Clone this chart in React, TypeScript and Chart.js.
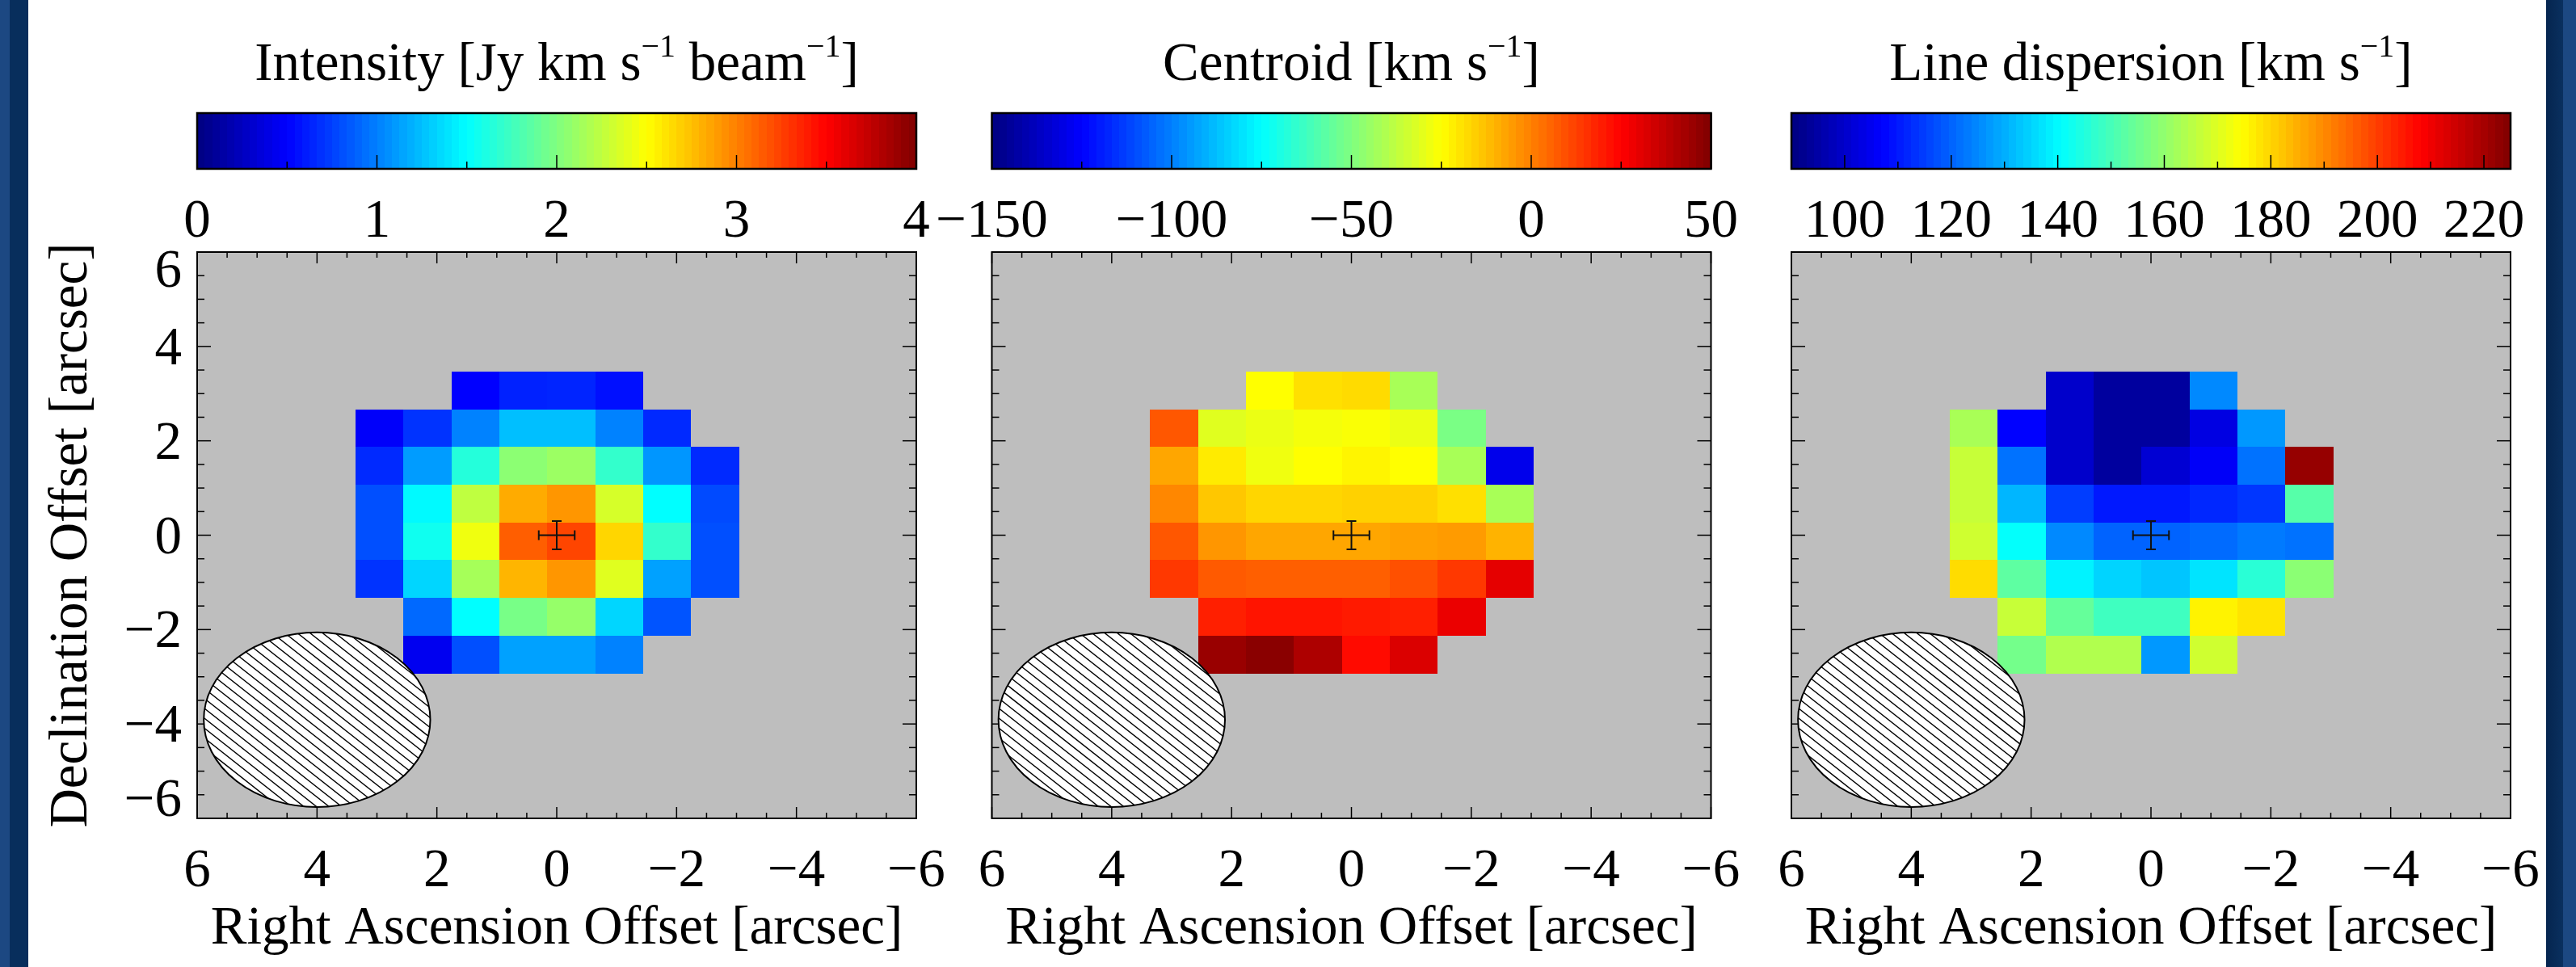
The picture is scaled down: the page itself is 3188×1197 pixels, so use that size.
import React, { useEffect, useRef } from "react";
import { Chart, registerables } from "chart.js";

Chart.register(...registerables);

// ---------------- data ----------------
// Centres (arcsec) of the 0.8" map pixels
const RA_CENTRES = [2.958, 2.158, 1.358, 0.558, -0.242, -1.042, -1.842, -2.642];
const DEC_CENTRES = [3.07, 2.27, 1.47, 0.67, -0.13, -0.93, -1.73, -2.53];
const PIXEL_SIZE = 0.8;

// Intensity [Jy km/s/beam], rows from top (north) to bottom
const INTENSITY: (number | null)[][] = [
  [null, null, 0.5, 0.63, 0.64, 0.56, null, null],
  [0.48, 0.7, 1.01, 1.25, 1.25, 1.01, 0.66, null],
  [0.66, 1.11, 1.64, 2.05, 2.11, 1.7, 1.09, 0.66],
  [0.81, 1.48, 2.25, 2.83, 2.91, 2.34, 1.5, 0.79],
  [0.81, 1.56, 2.44, 3.13, 3.23, 2.66, 1.7, 0.81],
  [0.7, 1.34, 2.15, 2.79, 2.91, 2.38, 1.13, 0.81],
  [null, 0.91, 1.5, 1.97, 2.09, 1.34, 0.83, null],
  [null, 0.44, 0.81, 1.13, 1.13, 1.01, null, null],
];

// Centroid velocity [km/s]
const CENTROID: (number | null)[][] = [
  [null, null, -25, -19, -18, -42, null, null],
  [8, -31, -29, -27, -26, -29, -51, null],
  [-7.5, -21, -28, -25, -23, -25, -42, -129],
  [-1.4, -14, -17, -17, -16, -16, -19, -42],
  [8, -4.4, -7.5, -7.5, -7.5, -6.4, -5.4, -10],
  [14, 7.4, 6.4, 6.4, 6.4, 9.3, 14, 30],
  [null, 19, 21, 21, 20, 19, 29, null],
  [null, 45, 48, 41, 23, 32, null, null],
];

// Line dispersion [km/s]
const DISPERSION: (number | null)[][] = [
  [null, null, 100, 94, 94, 125, null, null],
  [163, 107, 100, 94, 94, 103, 127, null],
  [167, 122, 100, 94, 101, 106, 122, 222],
  [167, 131, 115, 110, 110, 112, 114, 152],
  [168, 141, 125, 120, 120, 121, 123, 122],
  [179, 153, 139, 135, 133, 137, 146, 159],
  [null, 167, 154, 149, 149, 176, 178, null],
  [null, 156, 164, 164, 127, 168, null, null],
];

// Axis ticks (arcsec)
const AXIS_MAJOR = [6, 4, 2, 0, -2, -4, -6];
const AXIS_LABELS = ["6", "4", "2", "0", "\u22122", "\u22124", "\u22126"];
const AXIS_MINOR = [5.5, 5, 4.5, 3.5, 3, 2.5, 1.5, 1, 0.5, -0.5, -1, -1.5, -2.5, -3, -3.5, -4.5, -5, -5.5];

// Colour bars
const CB1_RANGE = [0, 4];
const CB1_MAJOR = [0, 1, 2, 3, 4];
const CB1_LABELS = ["0", "1", "2", "3", "4"];
const CB1_MINOR = [0.5, 1.5, 2.5, 3.5];

const CB2_RANGE = [-150, 50];
const CB2_MAJOR = [-150, -100, -50, 0, 50];
const CB2_LABELS = ["\u2212150", "\u2212100", "\u221250", "0", "50"];
const CB2_MINOR = [-125, -75, -25, 25];

const CB3_RANGE = [90, 225];
const CB3_MAJOR = [100, 120, 140, 160, 180, 200, 220];
const CB3_LABELS = ["100", "120", "140", "160", "180", "200", "220"];
const CB3_MINOR = [110, 130, 150, 170, 190, 210];

// Beam (arcsec) and position marker
const BEAM = { x: 4, y: -3.91, rx: 1.89, ry: 1.85 };
const HATCH_STEP = 0.21;
const MARKER = { x: 0, y: 0, err: 0.3 };

const X_TITLE = "Right Ascension Offset [arcsec]";
const Y_TITLE = "Declination Offset [arcsec]";

// ---------------- layout ----------------
const W = 3188;
const H = 1197;
const PLOT_TOP = 312;
const PLOT_BOTTOM = 1013;
const PLOT_W = 890;
const CB_TOP = 140;
const CB_BOTTOM = 209;
const FONT = '"Liberation Serif", "Times New Roman", serif';
const FS = 67;
const SUP_FS = 40;
const CB_STEPS = 96;

type Part = [string, boolean];
interface PanelDef {
  id: string;
  left: number;
  values: (number | null)[][];
  range: number[];
  major: number[];
  labels: string[];
  minor: number[];
  title: Part[];
  showY: boolean;
}

const PANELS: PanelDef[] = [
  {
    id: "intensity",
    left: 244,
    values: INTENSITY,
    range: CB1_RANGE,
    major: CB1_MAJOR,
    labels: CB1_LABELS,
    minor: CB1_MINOR,
    title: [["Intensity [Jy km s", false], ["\u22121", true], [" beam", false], ["\u22121", true], ["]", false]],
    showY: true,
  },
  {
    id: "centroid",
    left: 1227.5,
    values: CENTROID,
    range: CB2_RANGE,
    major: CB2_MAJOR,
    labels: CB2_LABELS,
    minor: CB2_MINOR,
    title: [["Centroid [km s", false], ["\u22121", true], ["]", false]],
    showY: false,
  },
  {
    id: "dispersion",
    left: 2217,
    values: DISPERSION,
    range: CB3_RANGE,
    major: CB3_MAJOR,
    labels: CB3_LABELS,
    minor: CB3_MINOR,
    title: [["Line dispersion [km s", false], ["\u22121", true], ["]", false]],
    showY: false,
  },
];

function clamp01(v: number) {
  return Math.max(0, Math.min(1, v));
}

function jet(t: number) {
  const u = clamp01(t);
  const r = clamp01(1.5 - Math.abs(4 * u - 3));
  const g = clamp01(1.5 - Math.abs(4 * u - 2));
  const b = clamp01(1.5 - Math.abs(4 * u - 1));
  return `rgb(${Math.round(r * 255)},${Math.round(g * 255)},${Math.round(b * 255)})`;
}

function line(ctx: CanvasRenderingContext2D, x0: number, y0: number, x1: number, y1: number) {
  ctx.beginPath();
  ctx.moveTo(x0, y0);
  ctx.lineTo(x1, y1);
  ctx.stroke();
}

function makePlugin(p: PanelDef) {
  return {
    id: "panelArt_" + p.id,
    beforeDatasetsDraw(chart: any) {
      const { ctx, chartArea: a } = chart;
      const xs = chart.scales.x;
      const ys = chart.scales.y;
      ctx.save();
      ctx.fillStyle = "#bebebe";
      ctx.fillRect(a.left, a.top, a.right - a.left, a.bottom - a.top);
      const pts = chart.data.datasets[0].data as { x: number; y: number; v: number }[];
      const span = p.range[1] - p.range[0];
      for (const pt of pts) {
        const xa = xs.getPixelForValue(pt.x + PIXEL_SIZE / 2);
        const xb = xs.getPixelForValue(pt.x - PIXEL_SIZE / 2);
        const ya = ys.getPixelForValue(pt.y + PIXEL_SIZE / 2);
        const yb = ys.getPixelForValue(pt.y - PIXEL_SIZE / 2);
        const l = Math.round(Math.min(xa, xb));
        const r = Math.round(Math.max(xa, xb));
        const t = Math.round(Math.min(ya, yb));
        const b = Math.round(Math.max(ya, yb));
        ctx.fillStyle = jet((pt.v - p.range[0]) / span);
        ctx.fillRect(l, t, r - l, b - t);
      }
      ctx.restore();
    },
    afterDatasetsDraw(chart: any) {
      const { ctx, chartArea: a } = chart;
      const xs = chart.scales.x;
      const ys = chart.scales.y;
      ctx.save();
      ctx.strokeStyle = "#000";
      ctx.lineCap = "butt";
      // ticks on all four sides, pointing inwards
      ctx.lineWidth = 1.5;
      const xt = [...AXIS_MAJOR.map((v) => [v, 14]), ...AXIS_MINOR.map((v) => [v, 7])];
      for (const [v, len] of xt) {
        const px = xs.getPixelForValue(v);
        line(ctx, px, a.bottom, px, a.bottom - len);
        line(ctx, px, a.top, px, a.top + len);
      }
      const yt = [...AXIS_MAJOR.map((v) => [v, 17]), ...AXIS_MINOR.map((v) => [v, 9])];
      for (const [v, len] of yt) {
        const py = ys.getPixelForValue(v);
        line(ctx, a.left, py, a.left + len, py);
        line(ctx, a.right, py, a.right - len, py);
      }
      ctx.lineWidth = 2;
      ctx.strokeRect(a.left, a.top, a.right - a.left, a.bottom - a.top);

      // beam
      const cx = xs.getPixelForValue(BEAM.x);
      const cy = ys.getPixelForValue(BEAM.y);
      const rx = Math.abs(xs.getPixelForValue(BEAM.x + BEAM.rx) - cx);
      const ry = Math.abs(ys.getPixelForValue(BEAM.y + BEAM.ry) - cy);
      ctx.save();
      ctx.beginPath();
      ctx.ellipse(cx, cy, rx, ry, 0, 0, Math.PI * 2);
      ctx.fillStyle = "#ffffff";
      ctx.fill();
      ctx.clip();
      ctx.lineWidth = 1.4;
      const k0 = BEAM.x - BEAM.y;
      const reach = BEAM.rx + BEAM.ry + 0.5;
      for (let k = k0 - reach; k <= k0 + reach; k += HATCH_STEP) {
        const xa = BEAM.x + 4;
        const xb = BEAM.x - 4;
        line(ctx, xs.getPixelForValue(xa), ys.getPixelForValue(xa - k), xs.getPixelForValue(xb), ys.getPixelForValue(xb - k));
      }
      ctx.restore();
      ctx.lineWidth = 2;
      ctx.beginPath();
      ctx.ellipse(cx, cy, rx, ry, 0, 0, Math.PI * 2);
      ctx.stroke();

      // position marker with error bars
      const ox = xs.getPixelForValue(MARKER.x);
      const oy = ys.getPixelForValue(MARKER.y);
      const xl = xs.getPixelForValue(MARKER.x + MARKER.err);
      const xr = xs.getPixelForValue(MARKER.x - MARKER.err);
      const yt0 = ys.getPixelForValue(MARKER.y + MARKER.err);
      const yb0 = ys.getPixelForValue(MARKER.y - MARKER.err);
      ctx.strokeStyle = "#111";
      ctx.lineWidth = 2;
      line(ctx, xl, oy, xr, oy);
      line(ctx, ox, yt0, ox, yb0);
      line(ctx, xl, oy - 6, xl, oy + 6);
      line(ctx, xr, oy - 6, xr, oy + 6);
      line(ctx, ox - 6, yt0, ox + 6, yt0);
      line(ctx, ox - 6, yb0, ox + 6, yb0);
      ctx.restore();
    },
    afterDraw(chart: any) {
      const { ctx, chartArea: a } = chart;
      const xs = chart.scales.x;
      const ys = chart.scales.y;
      const cb = chart.scales.cb;
      ctx.save();
      // colour bar
      const span = p.range[1] - p.range[0];
      for (let i = 0; i < CB_STEPS; i++) {
        const v0 = p.range[0] + (span * i) / CB_STEPS;
        const v1 = p.range[0] + (span * (i + 1)) / CB_STEPS;
        const x0 = Math.round(cb.getPixelForValue(v0));
        const x1 = Math.round(cb.getPixelForValue(v1));
        ctx.fillStyle = jet((i + 0.5) / CB_STEPS);
        ctx.fillRect(x0, CB_TOP, x1 - x0 + 1, CB_BOTTOM - CB_TOP);
      }
      ctx.strokeStyle = "#000";
      ctx.lineWidth = 1.5;
      for (const v of p.major) {
        if (v === p.range[0] || v === p.range[1]) continue;
        const px = cb.getPixelForValue(v);
        line(ctx, px, CB_BOTTOM, px, CB_BOTTOM - 17);
      }
      for (const v of p.minor) {
        const px = cb.getPixelForValue(v);
        line(ctx, px, CB_BOTTOM, px, CB_BOTTOM - 9);
      }
      ctx.lineWidth = 2.5;
      const cl = cb.getPixelForValue(p.range[0]);
      const cr = cb.getPixelForValue(p.range[1]);
      ctx.strokeRect(cl, CB_TOP, cr - cl, CB_BOTTOM - CB_TOP);

      ctx.fillStyle = "#000";
      ctx.textBaseline = "alphabetic";
      ctx.font = `${FS}px ${FONT}`;
      ctx.textAlign = "center";
      p.major.forEach((v, i) => {
        ctx.fillText(p.labels[i], cb.getPixelForValue(v), 293);
      });

      // colour bar title with superscripts
      ctx.textAlign = "left";
      let total = 0;
      for (const [txt, sup] of p.title) {
        ctx.font = `${sup ? SUP_FS : FS}px ${FONT}`;
        total += ctx.measureText(txt).width;
      }
      let tx = (a.left + a.right) / 2 - total / 2;
      for (const [txt, sup] of p.title) {
        ctx.font = `${sup ? SUP_FS : FS}px ${FONT}`;
        ctx.fillText(txt, tx, sup ? 70 : 99);
        tx += ctx.measureText(txt).width;
      }

      // x tick labels and title
      ctx.font = `${FS}px ${FONT}`;
      ctx.textAlign = "center";
      AXIS_MAJOR.forEach((v, i) => {
        ctx.fillText(AXIS_LABELS[i], xs.getPixelForValue(v), 1097);
      });
      ctx.fillText(X_TITLE, (a.left + a.right) / 2, 1168);

      if (p.showY) {
        ctx.textAlign = "right";
        AXIS_MAJOR.forEach((v, i) => {
          let py = ys.getPixelForValue(v) + 22;
          if (v === 6) py += 21;
          if (v === -6) py -= 25;
          ctx.fillText(AXIS_LABELS[i], 225, py);
        });
        ctx.save();
        ctx.translate(107, (a.top + a.bottom) / 2);
        ctx.rotate(-Math.PI / 2);
        ctx.textAlign = "center";
        ctx.fillText(Y_TITLE, 0, 0);
        ctx.restore();
      }
      ctx.restore();
    },
  };
}

function buildConfig(p: PanelDef): any {
  const cells: { x: number; y: number; v: number }[] = [];
  p.values.forEach((row, r) =>
    row.forEach((v, c) => {
      if (v !== null) cells.push({ x: RA_CENTRES[c], y: DEC_CENTRES[r], v });
    })
  );
  const hidden = {
    grid: { display: false },
    border: { display: false },
    ticks: { display: false },
    title: { display: false },
  };
  return {
    type: "scatter",
    data: {
      datasets: [
        {
          label: p.id,
          data: cells,
          xAxisID: "x",
          yAxisID: "y",
          pointRadius: 0,
          pointHoverRadius: 0,
        },
      ],
    },
    options: {
      animation: false,
      responsive: false,
      maintainAspectRatio: false,
      devicePixelRatio: 1,
      events: [],
      layout: { padding: { left: 0, top: 0, bottom: 0, right: W - (p.left + PLOT_W) } },
      plugins: { legend: { display: false }, tooltip: { enabled: false }, title: { display: false } },
      scales: {
        x: {
          type: "linear",
          position: "bottom",
          min: -6,
          max: 6,
          reverse: true,
          ...hidden,
          afterFit: (s: any) => {
            s.height = H - PLOT_BOTTOM;
          },
        },
        y: {
          type: "linear",
          position: "left",
          min: -6,
          max: 6,
          ...hidden,
          afterFit: (s: any) => {
            s.width = p.left;
          },
        },
        cb: {
          type: "linear",
          axis: "x",
          position: "top",
          min: p.range[0],
          max: p.range[1],
          ...hidden,
          afterFit: (s: any) => {
            s.height = PLOT_TOP;
          },
        },
      },
    },
    plugins: [makePlugin(p)],
  };
}

export default function App() {
  const r0 = useRef<HTMLCanvasElement>(null);
  const r1 = useRef<HTMLCanvasElement>(null);
  const r2 = useRef<HTMLCanvasElement>(null);
  const refs = [r0, r1, r2];

  useEffect(() => {
    const charts = PANELS.map((p, i) => new Chart(refs[i].current as HTMLCanvasElement, buildConfig(p)));
    return () => charts.forEach((c) => c.destroy());
  }, []);

  return (
    <div
      style={{
        position: "fixed",
        left: 0,
        top: 0,
        width: W,
        height: H,
        background: "#ffffff",
        overflow: "hidden",
      }}
    >
      <div style={{ position: "absolute", left: 0, top: 0, width: 12, height: H, background: "#1c4882" }} />
      <div style={{ position: "absolute", left: 12, top: 0, width: 23, height: H, background: "#082e5c" }} />
      <div
        style={{
          position: "absolute",
          left: 3151,
          top: 0,
          width: 21,
          height: H,
          background: "linear-gradient(to right, #05254f, #0a305f)",
        }}
      />
      <div style={{ position: "absolute", left: 3172, top: 0, width: 16, height: H, background: "#1c4882" }} />
      {refs.map((r, i) => (
        <canvas
          key={i}
          ref={r}
          width={W}
          height={H}
          style={{ position: "absolute", left: 0, top: 0, width: W, height: H }}
        />
      ))}
    </div>
  );
}
